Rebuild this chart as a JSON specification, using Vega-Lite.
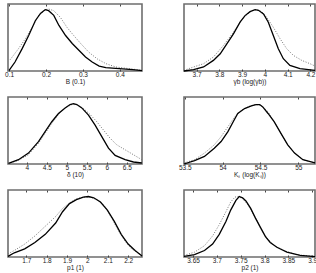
{
  "$schema": "https://vega.github.io/schema/vega-lite/v6.json",
  "padding": {"left": 3, "top": 2, "right": 0, "bottom": 0},
  "background": "white",
  "config": {
    "view": {"stroke": "#6e6e6e", "strokeWidth": 1.6},
    "axis": {"labelFont": "Liberation Sans", "labelFontSize": 6.5, "labelColor": "#222", "titleFont": "Liberation Sans", "titleFontSize": 6.5, "titleFontWeight": "normal", "titleColor": "#222", "domain": false, "grid": false, "tickColor": "#444", "tickSize": -2, "labelPadding": 2, "titlePadding": 1, "labelFlush": false, "format": "~g"}
  },
  "datasets": {
    "d": [
      {"p":1,"s":"a","x":0.1,"y":0.01},{"p":1,"s":"a","x":0.116,"y":0.134},{"p":1,"s":"a","x":0.135,"y":0.33},{"p":1,"s":"a","x":0.153,"y":0.53},{"p":1,"s":"a","x":0.171,"y":0.75},{"p":1,"s":"a","x":0.185,"y":0.86},{"p":1,"s":"a","x":0.194,"y":0.9},{"p":1,"s":"a","x":0.198,"y":0.915},{"p":1,"s":"a","x":0.207,"y":0.9},{"p":1,"s":"a","x":0.221,"y":0.83},{"p":1,"s":"a","x":0.235,"y":0.68},{"p":1,"s":"a","x":0.253,"y":0.53},{"p":1,"s":"a","x":0.271,"y":0.41},{"p":1,"s":"a","x":0.289,"y":0.31},{"p":1,"s":"a","x":0.307,"y":0.21},{"p":1,"s":"a","x":0.325,"y":0.134},{"p":1,"s":"a","x":0.344,"y":0.074},{"p":1,"s":"a","x":0.362,"y":0.05},{"p":1,"s":"a","x":0.398,"y":0.035},{"p":1,"s":"a","x":0.435,"y":0.02},{"p":1,"s":"a","x":0.46,"y":0.005},
      {"p":1,"s":"b","x":0.103,"y":0.17},{"p":1,"s":"b","x":0.125,"y":0.33},{"p":1,"s":"b","x":0.144,"y":0.48},{"p":1,"s":"b","x":0.162,"y":0.65},{"p":1,"s":"b","x":0.18,"y":0.83},{"p":1,"s":"b","x":0.198,"y":0.915},{"p":1,"s":"b","x":0.207,"y":0.925},{"p":1,"s":"b","x":0.221,"y":0.9},{"p":1,"s":"b","x":0.239,"y":0.8},{"p":1,"s":"b","x":0.257,"y":0.65},{"p":1,"s":"b","x":0.275,"y":0.53},{"p":1,"s":"b","x":0.294,"y":0.41},{"p":1,"s":"b","x":0.316,"y":0.28},{"p":1,"s":"b","x":0.339,"y":0.18},{"p":1,"s":"b","x":0.362,"y":0.11},{"p":1,"s":"b","x":0.389,"y":0.06},{"p":1,"s":"b","x":0.425,"y":0.035},{"p":1,"s":"b","x":0.46,"y":0.01},
      {"p":2,"s":"a","x":3.645,"y":0.0},{"p":2,"s":"a","x":3.687,"y":0.02},{"p":2,"s":"a","x":3.731,"y":0.06},{"p":2,"s":"a","x":3.774,"y":0.158},{"p":2,"s":"a","x":3.804,"y":0.257},{"p":2,"s":"a","x":3.833,"y":0.406},{"p":2,"s":"a","x":3.862,"y":0.554},{"p":2,"s":"a","x":3.891,"y":0.728},{"p":2,"s":"a","x":3.913,"y":0.827},{"p":2,"s":"a","x":3.935,"y":0.886},{"p":2,"s":"a","x":3.957,"y":0.916},{"p":2,"s":"a","x":3.972,"y":0.906},{"p":2,"s":"a","x":3.994,"y":0.851},{"p":2,"s":"a","x":4.015,"y":0.728},{"p":2,"s":"a","x":4.037,"y":0.53},{"p":2,"s":"a","x":4.059,"y":0.332},{"p":2,"s":"a","x":4.081,"y":0.183},{"p":2,"s":"a","x":4.11,"y":0.084},{"p":2,"s":"a","x":4.154,"y":0.035},{"p":2,"s":"a","x":4.22,"y":0.01},
      {"p":2,"s":"b","x":3.645,"y":0.01},{"p":2,"s":"b","x":3.687,"y":0.06},{"p":2,"s":"b","x":3.731,"y":0.109},{"p":2,"s":"b","x":3.774,"y":0.208},{"p":2,"s":"b","x":3.818,"y":0.381},{"p":2,"s":"b","x":3.862,"y":0.579},{"p":2,"s":"b","x":3.906,"y":0.8},{"p":2,"s":"b","x":3.942,"y":0.9},{"p":2,"s":"b","x":3.964,"y":0.916},{"p":2,"s":"b","x":3.986,"y":0.886},{"p":2,"s":"b","x":4.008,"y":0.8},{"p":2,"s":"b","x":4.037,"y":0.653},{"p":2,"s":"b","x":4.067,"y":0.48},{"p":2,"s":"b","x":4.096,"y":0.332},{"p":2,"s":"b","x":4.125,"y":0.233},{"p":2,"s":"b","x":4.162,"y":0.158},{"p":2,"s":"b","x":4.198,"y":0.109},{"p":2,"s":"b","x":4.22,"y":0.074},
      {"p":3,"s":"a","x":3.542,"y":0.01},{"p":3,"s":"a","x":3.792,"y":0.064},{"p":3,"s":"a","x":4.042,"y":0.163},{"p":3,"s":"a","x":4.292,"y":0.335},{"p":3,"s":"a","x":4.458,"y":0.483},{"p":3,"s":"a","x":4.625,"y":0.631},{"p":3,"s":"a","x":4.792,"y":0.754},{"p":3,"s":"a","x":4.958,"y":0.837},{"p":3,"s":"a","x":5.083,"y":0.887},{"p":3,"s":"a","x":5.167,"y":0.901},{"p":3,"s":"a","x":5.25,"y":0.887},{"p":3,"s":"a","x":5.375,"y":0.837},{"p":3,"s":"a","x":5.542,"y":0.729},{"p":3,"s":"a","x":5.708,"y":0.581},{"p":3,"s":"a","x":5.875,"y":0.409},{"p":3,"s":"a","x":6.042,"y":0.236},{"p":3,"s":"a","x":6.208,"y":0.128},{"p":3,"s":"a","x":6.458,"y":0.064},{"p":3,"s":"a","x":6.667,"y":0.03},{"p":3,"s":"a","x":6.875,"y":0.015},
      {"p":3,"s":"b","x":3.542,"y":0.005},{"p":3,"s":"b","x":3.792,"y":0.054},{"p":3,"s":"b","x":4.042,"y":0.138},{"p":3,"s":"b","x":4.292,"y":0.31},{"p":3,"s":"b","x":4.458,"y":0.458},{"p":3,"s":"b","x":4.625,"y":0.606},{"p":3,"s":"b","x":4.792,"y":0.739},{"p":3,"s":"b","x":4.958,"y":0.837},{"p":3,"s":"b","x":5.125,"y":0.887},{"p":3,"s":"b","x":5.25,"y":0.887},{"p":3,"s":"b","x":5.417,"y":0.828},{"p":3,"s":"b","x":5.583,"y":0.739},{"p":3,"s":"b","x":5.75,"y":0.631},{"p":3,"s":"b","x":5.917,"y":0.507},{"p":3,"s":"b","x":6.083,"y":0.384},{"p":3,"s":"b","x":6.25,"y":0.286},{"p":3,"s":"b","x":6.458,"y":0.212},{"p":3,"s":"b","x":6.667,"y":0.138},{"p":3,"s":"b","x":6.875,"y":0.064},
      {"p":4,"s":"a","x":53.49,"y":0.0},{"p":4,"s":"a","x":53.63,"y":0.049},{"p":4,"s":"a","x":53.76,"y":0.113},{"p":4,"s":"a","x":53.89,"y":0.236},{"p":4,"s":"a","x":53.98,"y":0.335},{"p":4,"s":"a","x":54.07,"y":0.483},{"p":4,"s":"a","x":54.14,"y":0.631},{"p":4,"s":"a","x":54.2,"y":0.754},{"p":4,"s":"a","x":54.29,"y":0.828},{"p":4,"s":"a","x":54.38,"y":0.867},{"p":4,"s":"a","x":54.44,"y":0.887},{"p":4,"s":"a","x":54.49,"y":0.887},{"p":4,"s":"a","x":54.53,"y":0.852},{"p":4,"s":"a","x":54.6,"y":0.754},{"p":4,"s":"a","x":54.68,"y":0.631},{"p":4,"s":"a","x":54.77,"y":0.458},{"p":4,"s":"a","x":54.86,"y":0.286},{"p":4,"s":"a","x":54.95,"y":0.163},{"p":4,"s":"a","x":55.06,"y":0.064},{"p":4,"s":"a","x":55.17,"y":0.03},{"p":4,"s":"a","x":55.22,"y":0.015},
      {"p":4,"s":"b","x":53.49,"y":0.015},{"p":4,"s":"b","x":53.63,"y":0.064},{"p":4,"s":"b","x":53.76,"y":0.163},{"p":4,"s":"b","x":53.89,"y":0.286},{"p":4,"s":"b","x":53.98,"y":0.409},{"p":4,"s":"b","x":54.07,"y":0.557},{"p":4,"s":"b","x":54.16,"y":0.704},{"p":4,"s":"b","x":54.25,"y":0.803},{"p":4,"s":"b","x":54.33,"y":0.852},{"p":4,"s":"b","x":54.42,"y":0.887},{"p":4,"s":"b","x":54.51,"y":0.877},{"p":4,"s":"b","x":54.6,"y":0.778},{"p":4,"s":"b","x":54.68,"y":0.631},{"p":4,"s":"b","x":54.77,"y":0.458},{"p":4,"s":"b","x":54.86,"y":0.286},{"p":4,"s":"b","x":54.95,"y":0.163},{"p":4,"s":"b","x":55.06,"y":0.064},{"p":4,"s":"b","x":55.22,"y":0.015},
      {"p":5,"s":"a","x":1.61,"y":0.01},{"p":5,"s":"a","x":1.641,"y":0.063},{"p":5,"s":"a","x":1.692,"y":0.121},{"p":5,"s":"a","x":1.742,"y":0.217},{"p":5,"s":"a","x":1.793,"y":0.338},{"p":5,"s":"a","x":1.844,"y":0.507},{"p":5,"s":"a","x":1.878,"y":0.676},{"p":5,"s":"a","x":1.912,"y":0.797},{"p":5,"s":"a","x":1.946,"y":0.855},{"p":5,"s":"a","x":1.98,"y":0.894},{"p":5,"s":"a","x":2.005,"y":0.903},{"p":5,"s":"a","x":2.031,"y":0.884},{"p":5,"s":"a","x":2.064,"y":0.821},{"p":5,"s":"a","x":2.098,"y":0.7},{"p":5,"s":"a","x":2.132,"y":0.531},{"p":5,"s":"a","x":2.166,"y":0.338},{"p":5,"s":"a","x":2.2,"y":0.193},{"p":5,"s":"a","x":2.234,"y":0.097},{"p":5,"s":"a","x":2.268,"y":0.014},
      {"p":5,"s":"b","x":1.61,"y":0.048},{"p":5,"s":"b","x":1.641,"y":0.097},{"p":5,"s":"b","x":1.692,"y":0.193},{"p":5,"s":"b","x":1.742,"y":0.314},{"p":5,"s":"b","x":1.793,"y":0.459},{"p":5,"s":"b","x":1.844,"y":0.604},{"p":5,"s":"b","x":1.878,"y":0.725},{"p":5,"s":"b","x":1.912,"y":0.807},{"p":5,"s":"b","x":1.946,"y":0.87},{"p":5,"s":"b","x":1.98,"y":0.894},{"p":5,"s":"b","x":2.014,"y":0.894},{"p":5,"s":"b","x":2.047,"y":0.855},{"p":5,"s":"b","x":2.081,"y":0.773},{"p":5,"s":"b","x":2.115,"y":0.604},{"p":5,"s":"b","x":2.149,"y":0.411},{"p":5,"s":"b","x":2.183,"y":0.242},{"p":5,"s":"b","x":2.217,"y":0.121},{"p":5,"s":"b","x":2.268,"y":0.024},
      {"p":6,"s":"a","x":3.631,"y":0.01},{"p":6,"s":"a","x":3.653,"y":0.034},{"p":6,"s":"a","x":3.674,"y":0.097},{"p":6,"s":"a","x":3.691,"y":0.193},{"p":6,"s":"a","x":3.705,"y":0.338},{"p":6,"s":"a","x":3.719,"y":0.531},{"p":6,"s":"a","x":3.729,"y":0.7},{"p":6,"s":"a","x":3.74,"y":0.845},{"p":6,"s":"a","x":3.747,"y":0.903},{"p":6,"s":"a","x":3.754,"y":0.884},{"p":6,"s":"a","x":3.761,"y":0.836},{"p":6,"s":"a","x":3.771,"y":0.725},{"p":6,"s":"a","x":3.781,"y":0.58},{"p":6,"s":"a","x":3.792,"y":0.435},{"p":6,"s":"a","x":3.802,"y":0.304},{"p":6,"s":"a","x":3.812,"y":0.217},{"p":6,"s":"a","x":3.826,"y":0.145},{"p":6,"s":"a","x":3.847,"y":0.072},{"p":6,"s":"a","x":3.875,"y":0.024},{"p":6,"s":"a","x":3.906,"y":0.005},
      {"p":6,"s":"b","x":3.631,"y":0.024},{"p":6,"s":"b","x":3.653,"y":0.072},{"p":6,"s":"b","x":3.674,"y":0.169},{"p":6,"s":"b","x":3.691,"y":0.314},{"p":6,"s":"b","x":3.705,"y":0.483},{"p":6,"s":"b","x":3.719,"y":0.676},{"p":6,"s":"b","x":3.729,"y":0.821},{"p":6,"s":"b","x":3.738,"y":0.894},{"p":6,"s":"b","x":3.745,"y":0.903},{"p":6,"s":"b","x":3.754,"y":0.87},{"p":6,"s":"b","x":3.764,"y":0.787},{"p":6,"s":"b","x":3.774,"y":0.676},{"p":6,"s":"b","x":3.785,"y":0.531},{"p":6,"s":"b","x":3.795,"y":0.386},{"p":6,"s":"b","x":3.806,"y":0.275},{"p":6,"s":"b","x":3.819,"y":0.179},{"p":6,"s":"b","x":3.84,"y":0.097},{"p":6,"s":"b","x":3.868,"y":0.034},{"p":6,"s":"b","x":3.906,"y":0.01}
    ]
  },
  "data": {"name": "d"},
  "columns": 2,
  "align": "each",
  "bounds": "flush",
  "spacing": {"row": 26, "column": 42},
  "concat": [
      {"width": 134, "height": 67, "transform": [{"filter": "datum.p == 1"}],
       "layer": [
        {"transform": [{"filter": "datum.s == 'b'"}], "mark": {"type": "line", "color": "#777", "strokeWidth": 1, "strokeDash": [1, 1.6]},
         "encoding": {"x": {"field": "x", "type": "quantitative", "scale": {"domain": [0.097, 0.46], "nice": false, "zero": false}, "axis": {"orient": "top", "values": [0.1, 0.2, 0.3, 0.4], "labels": false, "title": null}}, "y": {"field": "y", "type": "quantitative", "scale": {"domain": [0, 1], "nice": false}, "axis": null}}},
        {"transform": [{"filter": "datum.s == 'a'"}], "mark": {"type": "line", "color": "#000", "strokeWidth": 1.3},
         "encoding": {"x": {"field": "x", "type": "quantitative", "axis": {"values": [0.1, 0.2, 0.3, 0.4], "title": "B (0.1)"}}, "y": {"field": "y", "type": "quantitative", "axis": null}}}
       ],
       "resolve": {"axis": {"x": "independent"}}},
      {"width": 131, "height": 67, "transform": [{"filter": "datum.p == 2"}],
       "layer": [
        {"transform": [{"filter": "datum.s == 'b'"}], "mark": {"type": "line", "color": "#777", "strokeWidth": 1, "strokeDash": [1, 1.6]},
         "encoding": {"x": {"field": "x", "type": "quantitative", "scale": {"domain": [3.645, 4.22], "nice": false, "zero": false}, "axis": {"orient": "top", "values": [3.7, 3.8, 3.9, 4, 4.1, 4.2], "labels": false, "title": null}}, "y": {"field": "y", "type": "quantitative", "scale": {"domain": [0, 1], "nice": false}, "axis": null}}},
        {"transform": [{"filter": "datum.s == 'a'"}], "mark": {"type": "line", "color": "#000", "strokeWidth": 1.3},
         "encoding": {"x": {"field": "x", "type": "quantitative", "axis": {"values": [3.7, 3.8, 3.9, 4, 4.1, 4.2], "title": "γb (log(γb))"}}, "y": {"field": "y", "type": "quantitative", "axis": null}}}
       ],
       "resolve": {"axis": {"x": "independent"}}},
      {"width": 134, "height": 67, "transform": [{"filter": "datum.p == 3"}],
       "layer": [
        {"transform": [{"filter": "datum.s == 'b'"}], "mark": {"type": "line", "color": "#777", "strokeWidth": 1, "strokeDash": [1, 1.6]},
         "encoding": {"x": {"field": "x", "type": "quantitative", "scale": {"domain": [3.53, 6.88], "nice": false, "zero": false}, "axis": {"orient": "top", "values": [4, 4.5, 5, 5.5, 6, 6.5], "labels": false, "title": null}}, "y": {"field": "y", "type": "quantitative", "scale": {"domain": [0, 1], "nice": false}, "axis": null}}},
        {"transform": [{"filter": "datum.s == 'a'"}], "mark": {"type": "line", "color": "#000", "strokeWidth": 1.3},
         "encoding": {"x": {"field": "x", "type": "quantitative", "axis": {"values": [4, 4.5, 5, 5.5, 6, 6.5], "title": "δ (10)"}}, "y": {"field": "y", "type": "quantitative", "axis": null}}}
       ],
       "resolve": {"axis": {"x": "independent"}}},
      {"width": 131, "height": 67, "transform": [{"filter": "datum.p == 4"}],
       "layer": [
        {"transform": [{"filter": "datum.s == 'b'"}], "mark": {"type": "line", "color": "#777", "strokeWidth": 1, "strokeDash": [1, 1.6]},
         "encoding": {"x": {"field": "x", "type": "quantitative", "scale": {"domain": [53.49, 55.22], "nice": false, "zero": false}, "axis": {"orient": "top", "values": [53.5, 54, 54.5, 55], "labels": false, "title": null}}, "y": {"field": "y", "type": "quantitative", "scale": {"domain": [0, 1], "nice": false}, "axis": null}}},
        {"transform": [{"filter": "datum.s == 'a'"}], "mark": {"type": "line", "color": "#000", "strokeWidth": 1.3},
         "encoding": {"x": {"field": "x", "type": "quantitative", "axis": {"values": [53.5, 54, 54.5, 55], "title": "Kₛ (log(Kₛ))"}}, "y": {"field": "y", "type": "quantitative", "axis": null}}}
       ],
       "resolve": {"axis": {"x": "independent"}}},
      {"width": 134, "height": 67, "transform": [{"filter": "datum.p == 5"}],
       "layer": [
        {"transform": [{"filter": "datum.s == 'b'"}], "mark": {"type": "line", "color": "#777", "strokeWidth": 1, "strokeDash": [1, 1.6]},
         "encoding": {"x": {"field": "x", "type": "quantitative", "scale": {"domain": [1.61, 2.268], "nice": false, "zero": false}, "axis": {"orient": "top", "values": [1.7, 1.8, 1.9, 2, 2.1, 2.2], "labels": false, "title": null}}, "y": {"field": "y", "type": "quantitative", "scale": {"domain": [0, 1], "nice": false}, "axis": null}}},
        {"transform": [{"filter": "datum.s == 'a'"}], "mark": {"type": "line", "color": "#000", "strokeWidth": 1.3},
         "encoding": {"x": {"field": "x", "type": "quantitative", "axis": {"values": [1.7, 1.8, 1.9, 2, 2.1, 2.2], "title": "p1 (1)"}}, "y": {"field": "y", "type": "quantitative", "axis": null}}}
       ],
       "resolve": {"axis": {"x": "independent"}}},
      {"width": 131, "height": 67, "transform": [{"filter": "datum.p == 6"}],
       "layer": [
        {"transform": [{"filter": "datum.s == 'b'"}], "mark": {"type": "line", "color": "#777", "strokeWidth": 1, "strokeDash": [1, 1.6]},
         "encoding": {"x": {"field": "x", "type": "quantitative", "scale": {"domain": [3.631, 3.906], "nice": false, "zero": false}, "axis": {"orient": "top", "values": [3.65, 3.7, 3.75, 3.8, 3.85, 3.9], "labels": false, "title": null}}, "y": {"field": "y", "type": "quantitative", "scale": {"domain": [0, 1], "nice": false}, "axis": null}}},
        {"transform": [{"filter": "datum.s == 'a'"}], "mark": {"type": "line", "color": "#000", "strokeWidth": 1.3},
         "encoding": {"x": {"field": "x", "type": "quantitative", "axis": {"values": [3.65, 3.7, 3.75, 3.8, 3.85, 3.9], "title": "p2 (1)"}}, "y": {"field": "y", "type": "quantitative", "axis": null}}}
       ],
       "resolve": {"axis": {"x": "independent"}}}
  ]
}
